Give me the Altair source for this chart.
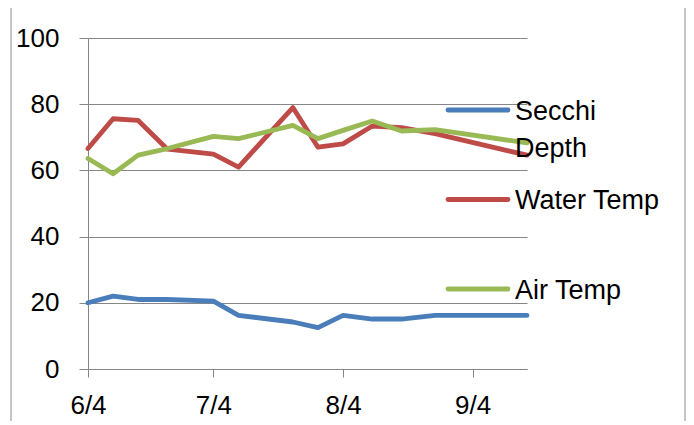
import altair as alt
import pandas as pd

# ---- data ----
dates = ["6/4", "6/10", "6/16", "6/23", "7/4", "7/10", "7/23", "7/29",
         "8/4", "8/11", "8/18", "8/26", "9/17"]
secchi = [20, 22, 21, 21, 20.5, 16.2, 14.2, 12.5, 16.2, 15.1, 15.1, 16.2, 16.2]
water = [66.6, 75.6, 75.1, 66.4, 64.9, 61, 79, 67, 68, 73.4, 72.9, 71.1, 64.6]
air = [63.6, 59, 64.6, 66.6, 70.3, 69.6, 73.6, 69.6, 72.1, 74.9, 71.9, 72.3, 68.3]
series_names = ["Secchi Depth", "Water Temp", "Air Temp"]
series_values = [secchi, water, air]
colors = ["#4A7EBB", "#BE4B48", "#98B954"]
tick_labels = ["6/4", "7/4", "8/4", "9/4"]
y_ticks = [0, 20, 40, 60, 80, 100]

YEAR = "2013/"
base = pd.to_datetime(YEAR + dates[0], format="%Y/%m/%d")


def day_of(d):
    return int((pd.to_datetime(YEAR + d, format="%Y/%m/%d") - base).days)


days = [day_of(d) for d in dates]
tick_days = [day_of(t) for t in tick_labels]

label_expr = "''"
for td, tl in reversed(list(zip(tick_days, tick_labels))):
    label_expr = f"datum.value == {td} ? '{tl}' : ({label_expr})"

FONT = "Liberation Sans"
GRID = "#868686"

x_scale = alt.Scale(domain=[days[0], days[-1]], nice=False, zero=False)
y_scale = alt.Scale(domain=[0, 100], nice=False)
x_axis = alt.Axis(values=tick_days, labelExpr=label_expr, grid=False,
                  tickSize=8, tickColor=GRID, domainColor=GRID, title=None,
                  labelFont=FONT, labelFontSize=26, labelColor="black",
                  labelPadding=15, labelFlush=False)
y_axis = alt.Axis(values=y_ticks, grid=True, gridColor=GRID, tickSize=9,
                  tickColor=GRID, domainColor=GRID, title=None,
                  labelFont=FONT, labelFontSize=26, labelColor="black",
                  labelPadding=20)

layers = []

# outer frame
frame = alt.Chart(pd.DataFrame({"k": [0]})).mark_rect(
    fill="white", fillOpacity=0, stroke="#8C8C8C", strokeWidth=1
).encode(x=alt.value(-77), x2=alt.value(597), y=alt.value(-31), y2=alt.value(400))
layers.append(frame)

for name, vals, col in zip(series_names, series_values, colors):
    df = pd.DataFrame({"day": days, "value": vals, "series": name})
    layers.append(
        alt.Chart(df).mark_line(color=col, strokeWidth=4.8, strokeJoin="round",
                                strokeCap="round").encode(
            x=alt.X("day:Q", scale=x_scale, axis=x_axis),
            y=alt.Y("value:Q", scale=y_scale, axis=y_axis),
        )
    )

# legend (drawn by hand to allow wrapped label)
LEG_X0, LEG_X1, LEG_TX = 360, 420, 427
LEG_Y0, LEG_DY = 72, 89.5
for i, (name, col) in enumerate(zip(series_names, colors)):
    ly = LEG_Y0 + i * LEG_DY
    ldf = pd.DataFrame({"label": [name]})
    layers.append(
        alt.Chart(ldf).mark_rule(color=col, strokeWidth=4.8, strokeCap="round").encode(
            x=alt.value(LEG_X0), x2=alt.value(LEG_X1), y=alt.value(ly))
    )
    text_kwargs = dict(align="left", baseline="alphabetic", font=FONT, fontSize=27,
                       color="black", lineHeight=37)
    if i == 0:
        text_kwargs["lineBreak"] = " "
    layers.append(
        alt.Chart(ldf).mark_text(**text_kwargs).encode(
            x=alt.value(LEG_TX), y=alt.value(ly + 9.5), text="label:N")
    )

chart = alt.layer(*layers).properties(
    width=439, height=331,
    padding={"left": 80, "top": 30, "right": 159, "bottom": 52},
    autosize=alt.AutoSizeParams(type="none"),
).configure_view(stroke=None)

chart.save("out.html", embed_options={"renderer": "svg", "actions": False})
